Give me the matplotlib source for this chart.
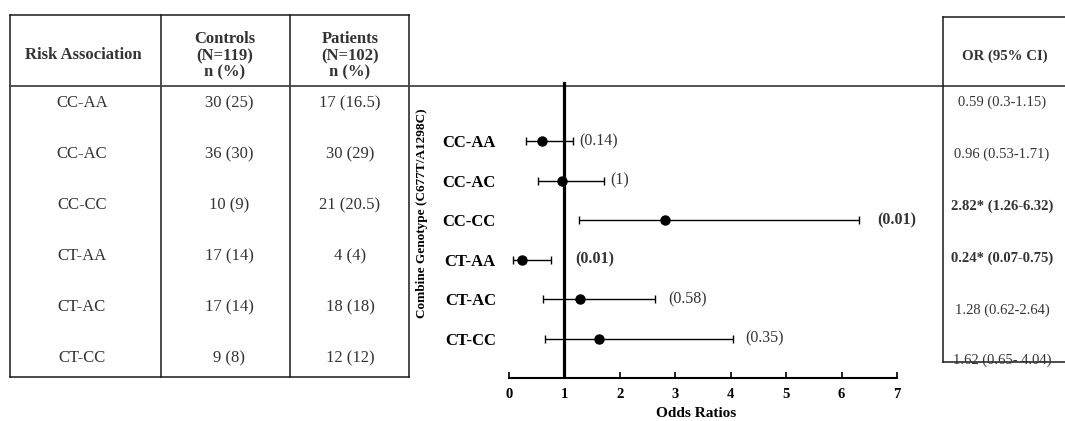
import matplotlib
matplotlib.use("Agg")
import matplotlib.pyplot as plt
import numpy as np

plt.rcParams['font.family'] = ['Liberation Serif', 'DejaVu Serif']

# -------------------------------------------------------
# Data
# -------------------------------------------------------
genotypes = ["CC-AA", "CC-AC", "CC-CC", "CT-AA", "CT-AC", "CT-CC"]
controls = ["30 (25)", "36 (30)", "10 (9)", "17 (14)", "17 (14)", "9 (8)"]
patients = ["17 (16.5)", "30 (29)", "21 (20.5)", "4 (4)", "18 (18)", "12 (12)"]
odds = [0.59, 0.96, 2.82, 0.24, 1.28, 1.62]
ci_low = [0.3, 0.53, 1.26, 0.07, 0.62, 0.65]
ci_high = [1.15, 1.71, 6.32, 0.75, 2.64, 4.04]
p_values = ["(0.14)", "(1)", "(0.01)", "(0.01)", "(0.58)", "(0.35)"]
significant = [False, False, True, True, False, False]
or_text = ["0.59 (0.3-1.15)", "0.96 (0.53-1.71)", "2.82* (1.26-6.32)",
           "0.24* (0.07-0.75)", "1.28 (0.62-2.64)", "1.62 (0.65- 4.04)"]

W, H = 1065, 421
INK = "#1a1a1a"
TXT = "#333333"

fig = plt.figure(figsize=(W / 100, H / 100), dpi=100)

# -------------------------------------------------------
# Background layer (pixel coords) for the tables
# -------------------------------------------------------
bg = fig.add_axes([0, 0, 1, 1])
bg.set_xlim(0, W)
bg.set_ylim(H, 0)
bg.axis("off")

lw = 1.1
# left table frame
for x in (10, 161, 290, 409):
    bg.plot([x, x], [15, 377], color=INK, lw=lw)
bg.plot([10, 409], [15, 15], color=INK, lw=lw)
bg.plot([10, 409], [377, 377], color=INK, lw=lw)
# header rule running across the figure
bg.plot([10, W], [86, 86], color="#444444", lw=1.3)
# right table frame
bg.plot([943, 943], [17, 362], color=INK, lw=lw)
bg.plot([943, W], [17, 17], color=INK, lw=lw)
bg.plot([943, W], [362, 362], color=INK, lw=lw)

hdr = dict(ha="center", va="center", fontsize=12, fontweight="bold",
           color=TXT, linespacing=1.06)
bg.text(83, 55, "Risk Association", **hdr)
bg.text(225, 56, "Controls\n(N=119)\nn (%)", **hdr)
bg.text(350, 56, "Patients\n(N=102)\nn (%)", **hdr)
bg.text(1005, 56, "OR (95% CI)", ha="center", va="center",
        fontsize=10.7, fontweight="bold", color=TXT)

for i, g in enumerate(genotypes):
    y = 103 + i * 51
    bg.text(82, y, g, ha="center", va="center", fontsize=12, color=TXT)
    bg.text(229, y, controls[i], ha="center", va="center", fontsize=12, color=TXT)
    bg.text(350, y, patients[i], ha="center", va="center", fontsize=12, color=TXT)
    yr = 102 + i * 52 if i < 5 else 360
    bg.text(1002, yr, or_text[i], ha="center", va="center", fontsize=10.5,
            color=TXT, fontweight="bold" if significant[i] else "normal")

# -------------------------------------------------------
# Forest plot
# -------------------------------------------------------
ax = fig.add_axes([509 / W, (H - 378) / H, (897 - 509) / W, (378 - 82) / H])
ax.patch.set_alpha(0)
ypos = np.arange(len(genotypes))
odds_a = np.array(odds)
err = [odds_a - np.array(ci_low), np.array(ci_high) - odds_a]
ax.errorbar(odds_a, ypos, xerr=err, fmt="o", color="black", ms=6.5,
            elinewidth=1.0, capsize=3, capthick=1.0)
ax.axvline(1, color="black", lw=2.3, zorder=0)

pad_px = [7, 6, 18, 25, 13, 12]
for i, p in enumerate(p_values):
    ax.annotate(p, (ci_high[i], ypos[i]), xytext=(pad_px[i], 0),
                textcoords="offset pixels", va="center", ha="left",
                fontsize=11.5, color=TXT,
                fontweight="bold" if significant[i] else "normal")

ax.set_xlim(0, 7)
ax.set_ylim(6.0, -1.5)
ax.set_xticks(range(8))
ax.set_xticklabels([str(t) for t in range(8)], fontweight="bold", fontsize=10.5)
ax.tick_params(axis="x", direction="in", length=4, width=1.2, pad=7)
ax.set_yticks(ypos)
ax.set_yticklabels(genotypes, fontweight="bold", fontsize=12)
ax.tick_params(axis="y", length=0, pad=9.5)
for s in ("top", "right", "left"):
    ax.spines[s].set_visible(False)
ax.spines["bottom"].set_linewidth(1.5)
ax.set_xlabel("Odds Ratios", fontweight="bold", fontsize=11)
ax.xaxis.set_label_coords((696 - 509) / (897 - 509), -(407 - 378) / (378 - 82))
ax.set_ylabel("Combine Genotype (C677T/A1298C)", fontweight="bold", fontsize=9.5)
ax.yaxis.set_label_coords(-(509 - 428) / (897 - 509), (378 - 213) / (378 - 82))

fig.savefig("out.png", dpi=100)
